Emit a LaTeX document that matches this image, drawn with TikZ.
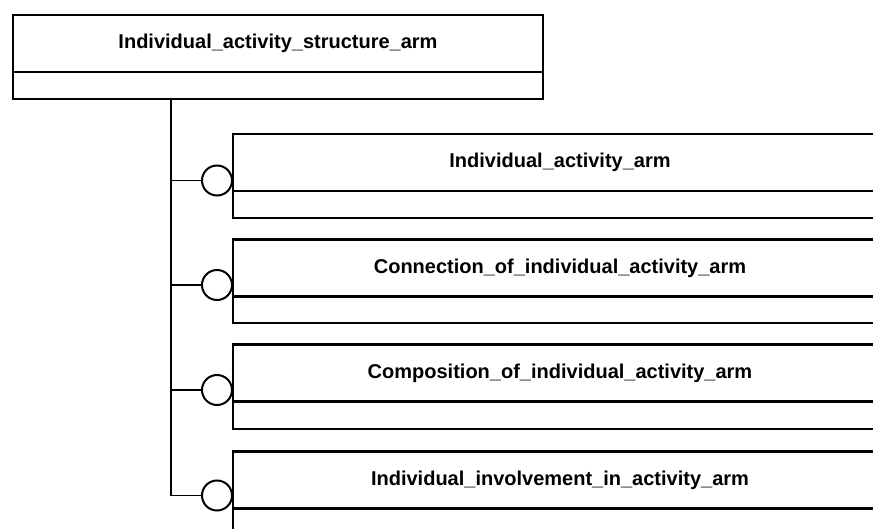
\documentclass[tikz,border=0pt]{standalone}
\usepackage{fontspec}
\setmainfont{Liberation Sans}
\usetikzlibrary{positioning}

\begin{document}
\begin{tikzpicture}[x=1pt,y=-1pt,
  head/.style={draw,line width=2.5pt,outer sep=0pt,inner sep=0pt,minimum height=57pt,
    font=\bfseries\fontsize{20}{22}\selectfont},
  body/.style={draw,line width=2pt,outer sep=0pt,inner sep=0pt,minimum height=27pt},
  ring/.style={draw,circle,line width=2pt,outer sep=0pt,inner sep=0pt,minimum size=30pt},
  trunk/.style={line width=1.5pt}]
  \clip (0,0) rectangle (873,529);
  \node[head,minimum width=530pt] (E-0) at (278,43.5) {Individual\_activity\_structure\_arm};
  \node[body,minimum width=530pt,below=0pt of E-0] (B-0) {};
  \node[head,minimum width=654pt] (E-1) at (560,162.5) {Individual\_activity\_arm};
  \node[body,minimum width=654pt,below=0pt of E-1] (B-1) {};
  \node[head,minimum width=654pt] (E-2) at (560,268) {Connection\_of\_individual\_activity\_arm};
  \node[body,minimum width=654pt,below=0pt of E-2] (B-2) {};
  \node[head,minimum width=654pt] (E-3) at (560,373) {Composition\_of\_individual\_activity\_arm};
  \node[body,minimum width=654pt,below=0pt of E-3] (B-3) {};
  \node[head,minimum width=654pt] (E-4) at (560,480) {Individual\_involvement\_in\_activity\_arm};
  \node[body,minimum width=654pt,below=0pt of E-4] (B-4) {};
  \node[ring] (R-1) at (217,180.5) {};
  \node[ring] (R-2) at (217,285) {};
  \node[ring] (R-3) at (217,390) {};
  \node[ring] (R-4) at (217,495.5) {};
  \coordinate (T-0) at (171,99);
  \draw[trunk] (T-0) |- (R-4.west);
  \draw[trunk] (T-0 |- R-1.west) -- (R-1.west);
  \draw[trunk] (T-0 |- R-2.west) -- (R-2.west);
  \draw[trunk] (T-0 |- R-3.west) -- (R-3.west);
\end{tikzpicture}
\end{document}
